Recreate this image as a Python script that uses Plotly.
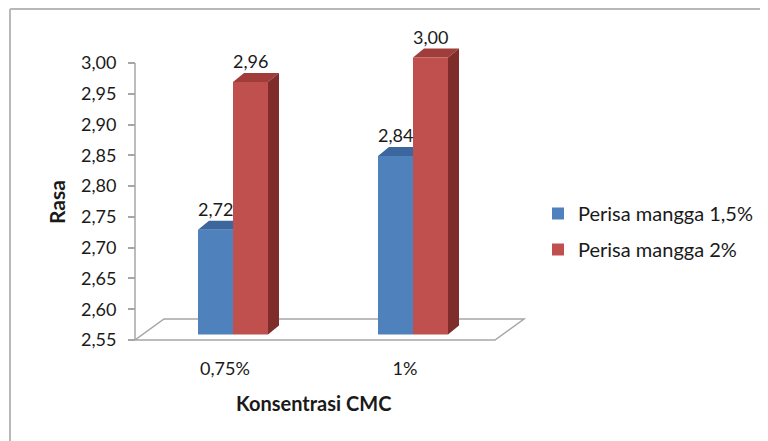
import plotly.graph_objects as go

# ---------------- data ----------------
categories = ["0,75%", "1%"]
series_names = ["Perisa mangga 1,5%", "Perisa mangga 2%"]
perisa_15 = [2.72, 2.84]
perisa_20 = [2.96, 3.00]
y_ticks = [2.55, 2.60, 2.65, 2.70, 2.75, 2.80, 2.85, 2.90, 2.95, 3.00]
y_base = 2.55

# ---------------- style ----------------
OFF = 8                              # page body margin of the html page
W, H = 768, 441 - OFF
RML, RMT = 120, 14                   # plot area edges in screen pixels
PW, PH = 635, 329
ML, MT = RML - OFF, RMT - OFF
MR, MB = W - ML - PW, H - MT - PH
XS = 180.0                           # px per category unit
YS = (340 - 63) / (3.00 - 2.55)      # px per value unit
X0PX = 225                           # screen pixel of category 0 (main axis)
x_lo = (RML - X0PX) / XS
x_hi = x_lo + PW / XS
y_lo = y_base - (RMT + PH - 340) / YS
y_hi = y_lo + PH / YS

def px_x(p):  # screen px -> paper
    return (p - RML) / PW
def px_y(p):
    return (RMT + PH - p) / PH

# 3D projection offsets (pixels)
BAR_DX, BAR_DY = 8, 5.5
FACE_DX, FACE_DY = 11, 9
FLOOR_DX, FLOOR_DY = 29, 21
bar_w = 35 / XS

FONT = "Lato"
c_blue, c_blue_top = "#4F81BD", "#3B679E"
c_red, c_red_top, c_red_side = "#C0504D", "#A03C39", "#7E2D2B"
grey = "#A6A6A6"
txt = "#1a1a1a"

fig = go.Figure()
fig.add_trace(go.Scatter(x=[], y=[], showlegend=False, hoverinfo="skip"))

xi = list(range(len(categories)))
blue_x = [i - bar_w / 2 for i in xi]
red_x = [i + bar_w / 2 for i in xi]

fig.add_trace(go.Bar(
    x=blue_x, y=[v - y_base for v in perisa_15], base=y_base, width=bar_w,
    name=series_names[0], marker=dict(color=c_blue, line=dict(width=0)),
    xaxis="x2", yaxis="y2", legendgroup="a", hoverinfo="skip"))
fig.add_trace(go.Bar(
    x=red_x, y=[v - y_base for v in perisa_20], base=y_base, width=bar_w,
    name=series_names[1], marker=dict(color=c_red, line=dict(width=0)),
    xaxis="x2", yaxis="y2", legendgroup="b", hoverinfo="skip"))

shapes = []
# chart-area border: only top and left edges fall inside the picture
border = dict(color="#B8B8B8", width=2)
shapes.append(dict(type="line", xref="paper", yref="paper",
                   x0=px_x(10), x1=px_x(800), y0=px_y(9), y1=px_y(9),
                   line=border, layer="below"))
shapes.append(dict(type="line", xref="paper", yref="paper",
                   x0=px_x(10), x1=px_x(10), y0=px_y(470), y1=px_y(9),
                   line=border, layer="below"))
fdx, fdy = FLOOR_DX / XS, FLOOR_DY / YS
fl, fr = -0.5, len(categories) - 0.5
shapes.append(dict(type="path", xref="x", yref="y",
                   path=f"M {fl},{y_base} L {fr},{y_base} L {fr+fdx},{y_base+fdy} L {fl+fdx},{y_base+fdy} Z",
                   line=dict(color=grey, width=1.5), fillcolor="rgba(0,0,0,0)", layer="below"))
shapes.append(dict(type="line", xref="x", yref="y", x0=-0.5, x1=-0.5,
                   y0=y_base, y1=y_ticks[-1], line=dict(color=grey, width=1.5), layer="below"))

ddx, ddy = FACE_DX / XS, FACE_DY / YS
def top_face(xl, xr, v, col):
    return dict(type="path", xref="x2", yref="y2",
                path=f"M {xl},{v} L {xl+ddx},{v+ddy} L {xr+ddx},{v+ddy} L {xr},{v} Z",
                line=dict(width=0), fillcolor=col, layer="below")
def side_face(xr, v, col):
    return dict(type="path", xref="x2", yref="y2",
                path=f"M {xr},{y_base} L {xr+ddx},{y_base+ddy} L {xr+ddx},{v+ddy} L {xr},{v} Z",
                line=dict(width=0), fillcolor=col, layer="below")

for x, v in zip(blue_x, perisa_15):
    shapes.append(top_face(x - bar_w / 2, x + bar_w / 2, v, c_blue_top))
for x, v in zip(red_x, perisa_20):
    shapes.append(top_face(x - bar_w / 2, x + bar_w / 2, v, c_red_top))
    shapes.append(side_face(x + bar_w / 2, v, c_red_side))

annotations = []
for xs_, vs_ in ((blue_x, perisa_15), (red_x, perisa_20)):
    for x, v in zip(xs_, vs_):
        annotations.append(dict(xref="x2", yref="y2", x=x, y=v, yshift=21,
                                text=f"{v:.2f}".replace(".", ","), showarrow=False,
                                font=dict(family=FONT, size=18, color=txt)))
annotations.append(dict(xref="paper", yref="paper", x=px_x(56), y=px_y(202),
                        xanchor="center", yanchor="middle",
                        text="<b>Rasa</b>", textangle=-90, showarrow=False,
                        font=dict(family=FONT, size=21, color=txt)))
annotations.append(dict(xref="paper", yref="paper", x=px_x(313), y=px_y(403),
                        xanchor="center", yanchor="middle",
                        text="<b>Konsentrasi CMC</b>", showarrow=False,
                        font=dict(family=FONT, size=20, color=txt)))

fig.update_layout(
    width=W, height=H, margin=dict(l=ML, r=MR, t=MT, b=MB),
    paper_bgcolor="white", plot_bgcolor="white",
    barmode="overlay", showlegend=True,
    font=dict(family=FONT, size=18, color=txt),
    xaxis=dict(range=[x_lo, x_hi], tickvals=xi, ticktext=categories,
               showgrid=False, zeroline=False, showline=False, ticks="",
               ticklabelstandoff=13, tickfont=dict(size=18)),
    yaxis=dict(range=[y_lo, y_hi], tickvals=y_ticks,
               ticktext=[f"{t:.2f}".replace(".", ",") for t in y_ticks],
               showgrid=False, zeroline=False, showline=False,
               ticks="outside", ticklen=7, tickcolor=grey, tickwidth=1.5,
               anchor="free", position=px_x(135),
               ticklabelstandoff=8, tickfont=dict(size=18)),
    xaxis2=dict(overlaying="x", anchor="y2", visible=False,
                range=[x_lo - BAR_DX / XS, x_hi - BAR_DX / XS]),
    yaxis2=dict(overlaying="y", anchor="x2", visible=False,
                range=[y_lo - BAR_DY / YS, y_hi - BAR_DY / YS]),
    legend=dict(x=px_x(538), xanchor="left", y=px_y(231.5), yanchor="middle",
                font=dict(family=FONT, size=20, color=txt), tracegroupgap=7,
                bgcolor="rgba(0,0,0,0)", traceorder="grouped"),
    shapes=shapes, annotations=annotations,
)

fig.write_html("out.html")
